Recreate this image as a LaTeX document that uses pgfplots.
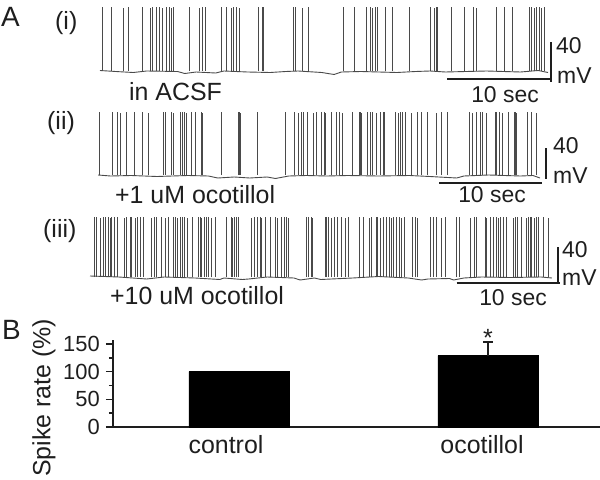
\documentclass[border=0pt]{standalone}
\usepackage{fontspec}
\setmainfont{Liberation Sans}
\usepackage{pgfplots}
\pgfplotsset{compat=1.18}
\definecolor{ink}{HTML}{1E1E1E}
\definecolor{trace}{HTML}{4A4A4A}
\newcommand\lbl{\fontsize{25}{28}\selectfont}
\newcommand\pnl{\fontsize{28}{30}\selectfont}
\newcommand\tck{\fontsize{22}{24}\selectfont}
\newcommand\scl{\fontsize{23}{26}\selectfont}
\pgfplotsset{
  trc/.style={hide axis, x=10.3bp, y=1bp, xmin=0, xmax=46, ymin=-15, ymax=66, anchor=origin, clip=false},
  spk/.style={ycomb, trace, line width=0.65bp},
  base/.style={trace, line width=0.9bp}}
\tikzset{scb/.style={ink, line width=1.6bp}, txt/.style={inner sep=0pt, text=ink}}

\begin{document}
\begin{tikzpicture}
\useasboundingbox (0,0) rectangle (600bp,-480bp);

% (i) in ACSF
\begin{axis}[trc, at={(90bp,-71bp)}]
\addplot[base] coordinates {(0.97,0.5) (2.5,-0.5) (4.2,-1.5) (5.5,0) (8.5,-0.5) (9.2,-2.5) (10.3,-1) (12.2,-2) (13,0) (15.3,-1) (17.5,-1.5) (19,-0.5) (20.2,0) (22.5,-1.5) (23.7,-3.5) (24.4,-1) (26.3,-0.5) (29.8,-1.5) (31.6,-0.5) (33,0) (34.5,-1) (38.5,0) (41.8,-1) (43.5,0.5) (44.47,-1.5)};
\addplot[spk] coordinates {(1.19,64) (2.04,64) (3.27,63) (3.72,64) (5.12,64) (5.83,63) (6.05,64) (6.48,64) (6.70,64) (7.06,63) (7.38,64) (7.67,64) (7.89,63) (8.09,64)
 (9.61,64) (10.58,63) (10.90,64) (11.17,64) (12.79,64) (13.27,64) (13.69,63) (13.88,64) (14.24,64) (14.47,63) (16.34,64) (16.77,64) (16.86,64)
 (19.78,64) (19.90,64) (20.61,63) (21.19,64) (24.63,64) (25.66,64) (26.86,64) (27.18,64) (27.45,63) (27.67,64) (27.93,64) (28.64,64) (29.32,64)
 (31.0,64) (33.01,64) (33.43,63) (33.59,64) (33.69,64) (35.05,64) (36.38,64) (37.21,64) (37.54,63) (39.49,64) (40.26,64) (41.0,64)
 (42.65,64) (42.88,64) (43.11,63) (43.37,64) (43.59,64) (43.85,63) (44.08,64)};
\draw[scb] (axis cs:44.76,29) -- (axis cs:44.76,-11);
\draw[scb] (axis cs:34.66,-8) -- (axis cs:44.66,-8);
\end{axis}

% (ii) +1 uM
\begin{axis}[trc, at={(90bp,-175bp)}]
\addplot[base] coordinates {(0.78,0) (2,-1) (4,-0.5) (6.5,-1.5) (9.5,-0.5) (11.5,-1) (12.4,-3) (14,-2) (15.5,-3) (17.2,-2) (18,-3.5) (19.3,-1) (21,-0.5) (23,-1) (25,-0.5) (28,-1) (31,-0.5) (33,-1.5) (35.6,-3) (36.3,-1) (38.7,0) (41.8,-1) (43,-0.5) (43.69,-3)};
\addplot[spk] coordinates {(0.87,63) (2.17,63) (2.69,63) (2.91,62) (3.56,63) (4.30,63) (5.08,63) (5.66,62) (7.12,63) (7.28,63) (7.93,63) (8.09,62) (8.74,63) (8.96,63)
 (9.16,63) (9.39,62) (9.87,63) (10.19,63) (10.78,63) (10.90,62) (12.79,63) (14.40,63) (14.53,63) (14.63,62) (16.28,63) (18.93,63) (19.83,63)
 (20.22,62) (20.49,63) (20.71,63) (21.14,63) (21.68,62) (22.01,63) (22.50,63) (22.75,63) (22.82,62) (23.47,63) (23.88,63) (24.20,63) (24.53,62)
 (25.50,63) (26.15,63) (26.28,63) (26.38,62) (26.96,63) (27.18,63) (27.45,63) (27.77,62) (28.16,63) (28.48,63) (28.57,63) (29.61,63) (29.93,62)
 (30.17,63) (30.36,63) (30.58,63) (31.23,62) (31.78,63) (32.20,63) (32.79,63) (33.59,62) (34.15,63) (34.69,63) (36.80,63) (37.16,62) (37.54,63)
 (37.86,63) (38.13,63) (38.51,62) (39.32,63) (39.42,63) (39.74,63) (40.07,62) (40.61,63) (41.17,63) (41.26,63) (41.42,62) (42.50,63) (42.88,63) (43.37,62)};
\draw[scb] (axis cs:44.27,27) -- (axis cs:44.27,-4);
\draw[scb] (axis cs:33.9,-8) -- (axis cs:43.9,-8);
\end{axis}

% (iii) +10 uM
\begin{axis}[trc, at={(90bp,-277bp)}]
\addplot[base] coordinates {(0,1) (2.8,0) (5.5,-2) (7.2,0) (10.2,-1) (12.6,-2.5) (13.0,-1) (14.8,-2.5) (15.4,-2) (17.2,0) (19.8,-1) (20.4,-3) (21.8,-1) (22.4,-2.5) (25.5,-1) (28,0.5) (30.9,-1) (32.2,-3) (32.8,-2) (34.9,-1.5) (35.3,-3) (36.3,-1) (38,0) (40.8,-0.5) (43.8,0) (44.85,-1)};
\addplot[spk] coordinates {(0.42,60) (0.65,60) (0.97,59) (1.29,60) (1.46,60) (1.78,60) (1.94,59) (2.11,60) (2.36,60) (2.69,60) (3.33,59) (3.56,60) (3.88,60)
 (4.05,60) (4.37,59) (4.63,60) (4.85,60) (5.17,60) (5.99,59) (6.24,60) (6.48,60) (6.96,60) (7.28,59) (7.60,60) (8.09,60) (8.25,60) (8.51,59)
 (8.74,60) (8.96,60) (9.16,60) (9.49,59) (9.93,60) (10.51,60) (10.68,60) (10.84,59) (11.10,60) (11.26,60) (11.49,60) (11.82,59) (12.20,60)
 (13.27,60) (13.69,60) (13.82,59) (14.01,60) (14.24,60) (14.40,60) (15.70,59) (15.95,60) (16.28,60) (16.50,60) (16.67,59) (16.99,60) (17.48,60)
 (17.96,60) (18.22,59) (18.54,60) (18.86,60) (19.10,60) (19.25,59) (21.04,60) (21.19,60) (21.46,60) (21.58,59) (22.82,60) (22.98,60) (23.14,60)
 (23.45,59) (23.69,60) (24.03,60) (24.44,60) (24.76,59) (25.08,60) (26.15,60) (26.53,60) (27.12,59) (27.35,60) (27.77,60) (27.89,60) (28.16,59)
 (28.48,60) (28.74,60) (29.06,60) (29.29,59) (29.45,60) (29.78,60) (30.03,60) (30.26,59) (30.49,60) (31.33,60) (31.55,60) (31.78,59) (33.01,60)
 (33.33,60) (33.66,60) (34.15,59) (34.47,60) (35.60,60) (35.85,60) (36.89,59) (37.28,60) (37.54,60) (38.35,60) (38.51,59) (38.83,60) (39.16,60)
 (39.49,60) (39.64,59) (39.87,60) (40.13,60) (40.46,60) (41.10,59) (41.26,60) (41.49,60) (41.91,60) (42.40,59) (42.55,60) (42.72,60) (42.88,60)
 (43.11,59) (43.37,60) (43.52,60) (44.01,60) (44.50,59)};
\draw[scb] (axis cs:45.44,30) -- (axis cs:45.44,-6);
\draw[scb] (axis cs:35.6,-6) -- (axis cs:45.6,-6);
\end{axis}

% panel A text
\node[txt, anchor=base west, font=\pnl] at (1bp,-26bp) {A};
\node[txt, anchor=base west, font=\lbl] at (55bp,-29.5bp) {(i)};
\node[txt, anchor=base west, font=\lbl] at (47bp,-129.5bp) {(ii)};
\node[txt, anchor=base west, font=\lbl] at (43bp,-237.5bp) {(iii)};
\node[txt, anchor=base west, font=\lbl] at (129bp,-100bp) {in ACSF};
\node[txt, anchor=base west, font=\lbl] at (115bp,-203bp) {+1 uM ocotillol};
\node[txt, anchor=base west, font=\lbl] at (110bp,-304bp) {+10 uM ocotillol};
\node[txt, anchor=base, font=\scl] at (505bp,-102bp) {10 sec};
\node[txt, anchor=base, font=\scl] at (492bp,-202bp) {10 sec};
\node[txt, anchor=base, font=\scl] at (513bp,-305bp) {10 sec};
\node[txt, anchor=base west, font=\scl] at (556bp,-53bp) {40};
\node[txt, anchor=base west, font=\scl] at (557bp,-83bp) {mV};
\node[txt, anchor=base west, font=\scl] at (553bp,-153bp) {40};
\node[txt, anchor=base west, font=\scl] at (553bp,-183bp) {mV};
\node[txt, anchor=base west, font=\scl] at (562bp,-257bp) {40};
\node[txt, anchor=base west, font=\scl] at (562bp,-285bp) {mV};
\node[txt, anchor=base west, font=\pnl] at (2bp,-339bp) {B};

% panel B
\begin{axis}[at={(113bp,-427bp)}, anchor=south west, x=249bp, y=0.5533bp,
  xmin=0.494, xmax=2.45, ymin=0, ymax=158, clip=false,
  axis lines=left, axis line style={-, ink, line width=1.4bp},
  xtick={0.948,1.976}, xticklabels={control,ocotillol}, x tick style={draw=none},
  xticklabel style={anchor=base, yshift=-19bp, font=\lbl, text=ink},
  ytick={0,50,100,150}, minor ytick={25,75,125},
  tick align=outside, major tick length=7bp, minor tick length=4bp,
  y tick style={ink, line width=1.4bp},
  yticklabel style={anchor=east, inner sep=0pt, xshift=-6bp, font=\tck, text=ink},
  /pgf/number format/assume math mode=true,
  ylabel={Spike rate (\%)},
  ylabel style={at={(axis description cs:-0.1417,0.332)}, anchor=center, font=\lbl, text=ink, inner sep=0pt}]
\addplot[ybar, bar width=100bp, fill=black, draw=black] coordinates {(1,100) (2,129)};
\addplot[draw=none, mark=none,
  error bars/.cd, y dir=plus, y explicit,
  error bar style={draw=ink, line width=1.5bp},
  error mark options={draw=ink, line width=1.5bp, rotate=90, mark size=4.5bp}]
  coordinates {(2,129) +- (0,25)};
\node[txt, anchor=base, font=\lbl] at (axis cs:2,145.5) {*};
\end{axis}
\end{tikzpicture}
\end{document}
